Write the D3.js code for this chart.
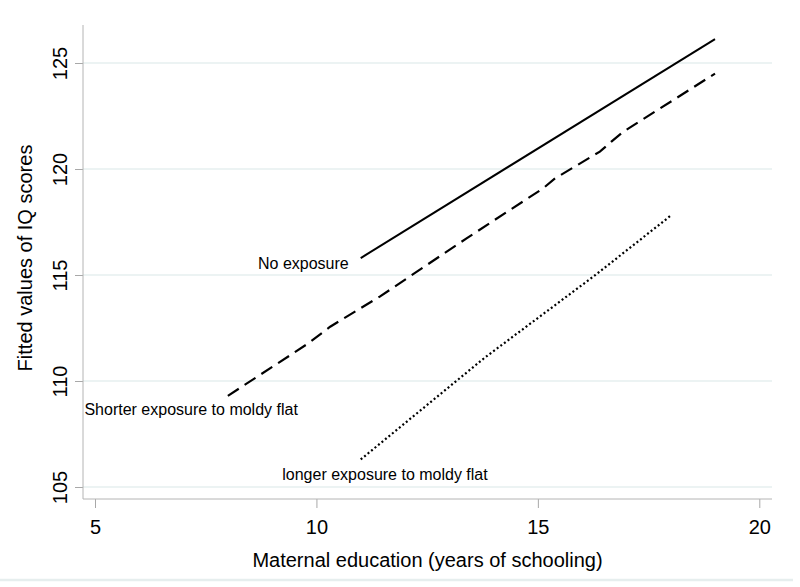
<!DOCTYPE html>
<html>
<head>
<meta charset="utf-8">
<script src="https://cdn.jsdelivr.net/npm/d3@7"></script>
<style>
  body { margin: 0; background: #fff; }
  text { font-family: "Liberation Sans", Arial, sans-serif; fill: #000; }
</style>
</head>
<body>
<div id="chart"></div>
<script>
// Data
const xTicks = [5, 10, 15, 20]
const yTicks = [105, 110, 115, 120, 125]

const noExposure = [[11, 115.8], [19, 126.13]]
const shorterExposure = [
  [8, 109.3], [9.82, 111.78], [10.31, 112.56], [11.43, 113.98],
  [13.39, 116.73], [15.12, 119.09], [15.39, 119.56], [16.4, 120.82],
  [16.66, 121.29], [16.93, 121.76], [19, 124.5]
]
const longerExposure = [[11, 106.3], [13.8, 111.1], [16.3, 115.0], [18, 117.8]]

const labels = ["No exposure", "Shorter exposure to moldy flat", "longer exposure to moldy flat"]

// Layout
const width = 800
const height = 587
const plotLeft = 83, plotRight = 772, plotTop = 25, plotBottom = 499

const svg = d3.select('#chart').append('svg')
  .attr("width", width)
  .attr("height", height)
  .style("background", "#fff")

const x = d3.scaleLinear().domain([5, 20]).range([95, 759.3])
const y = d3.scaleLinear().domain([105, 125]).range([487, 63])

// Gridlines
svg.append("g")
  .selectAll("line")
  .data(yTicks)
  .enter()
  .append("line")
  .attr("x1", plotLeft).attr("x2", plotRight)
  .attr("y1", d => y(d)).attr("y2", d => y(d))
  .attr("stroke", "#e6efef")
  .attr("stroke-width", 1.5)

// Y axis
const yAxis = svg.append("g")
  .attr("transform", "translate(" + plotLeft + ",0)")
  .call(d3.axisLeft(y).tickValues(yTicks).tickSize(8).tickPadding(15))
yAxis.select(".domain").remove()
yAxis.selectAll(".tick line").attr("stroke", "#a8a8a8")
yAxis.selectAll(".tick text")
  .attr("font-size", 20)
  .attr("font-family", "Liberation Sans, Arial, sans-serif")
  .attr("text-anchor", "middle")
  .attr("dy", null)
  .attr("x", null)
  .attr("transform", "translate(-16,0) rotate(-90)")
svg.append("line")
  .attr("x1", plotLeft).attr("x2", plotLeft)
  .attr("y1", plotTop).attr("y2", plotBottom)
  .attr("stroke", "#b4b4b4")

// X axis
const xAxis = svg.append("g")
  .attr("transform", "translate(0," + plotBottom + ")")
  .call(d3.axisBottom(x).tickValues(xTicks).tickSize(9).tickPadding(12))
xAxis.select(".domain").remove()
xAxis.selectAll(".tick line").attr("stroke", "#a8a8a8")
xAxis.selectAll(".tick text")
  .attr("font-size", 20)
  .attr("font-family", "Liberation Sans, Arial, sans-serif")
svg.append("line")
  .attr("x1", plotLeft).attr("x2", plotRight)
  .attr("y1", plotBottom).attr("y2", plotBottom)
  .attr("stroke", "#b4b4b4")

// Axis titles
svg.append("text")
  .attr("transform", "translate(32," + ((plotTop + plotBottom) / 2 - 4) + ") rotate(-90)")
  .attr("text-anchor", "middle")
  .attr("font-size", 20)
  .text("Fitted values of IQ scores")

svg.append("text")
  .attr("x", (plotLeft + plotRight) / 2)
  .attr("y", 567)
  .attr("text-anchor", "middle")
  .attr("font-size", 20)
  .text("Maternal education (years of schooling)")

// Bottom border of graph region
svg.append("line")
  .attr("x1", 0).attr("x2", 793)
  .attr("y1", 580).attr("y2", 580)
  .attr("stroke", "#e6eeee")
  .attr("stroke-width", 2.5)

// Lines
const line = d3.line().x(d => x(d[0])).y(d => y(d[1]))

svg.append("path")
  .attr("d", line(noExposure))
  .attr("fill", "none")
  .attr("stroke", "#000")
  .attr("stroke-width", 2)

svg.append("path")
  .attr("d", line(shorterExposure))
  .attr("fill", "none")
  .attr("stroke", "#000")
  .attr("stroke-width", 2.2)
  .attr("stroke-dasharray", "13,7")

svg.append("path")
  .attr("d", line(longerExposure))
  .attr("fill", "none")
  .attr("stroke", "#000")
  .attr("stroke-width", 2.2)
  .attr("stroke-dasharray", "2,2.5")

// Line labels
const labelG = svg.append("g").attr("font-size", 16)

labelG.append("text")
  .attr("x", x(noExposure[0][0]) - 12)
  .attr("y", y(noExposure[0][1]) + 10.5)
  .attr("text-anchor", "end")
  .text(labels[0])

labelG.append("text")
  .attr("x", x(shorterExposure[0][0]) + 70)
  .attr("y", y(shorterExposure[0][1]) + 19)
  .attr("text-anchor", "end")
  .text(labels[1])

labelG.append("text")
  .attr("x", x(longerExposure[0][0]) + 127)
  .attr("y", y(longerExposure[0][1]) + 21)
  .attr("text-anchor", "end")
  .text(labels[2])
</script>
</body>
</html>
